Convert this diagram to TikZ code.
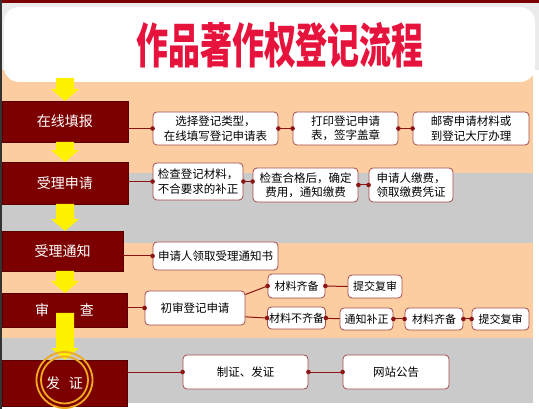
\documentclass[tikz,border=0pt]{standalone}
\usepackage{fontspec}
\newfontfamily\cjk{Noto Sans CJK SC}

\definecolor{peach}{RGB}{251,205,160}
\definecolor{bandgray}{RGB}{202,202,202}
\definecolor{stagered}{RGB}{125,0,0}
\definecolor{linkred}{RGB}{140,20,20}
\definecolor{boxline}{RGB}{165,75,75}
\definecolor{titlered}{RGB}{230,20,60}
\definecolor{ringorange}{RGB}{240,170,30}

\begin{document}
\begin{tikzpicture}[x=1pt, y=-1pt,
  stage/.style={fill=stagered, draw=stagered!70!black, text=white,
    font=\cjk\fontsize{14}{14}\selectfont, inner sep=0pt},
  stepbox/.style={draw=boxline, fill=white, rounded corners=4pt, align=center,
    inner sep=1pt, line width=0.8pt, font=\cjk\fontsize{11.5}{14.5}\selectfont},
  smallbox/.style={stepbox, font=\cjk\fontsize{11}{11}\selectfont},
  link/.style={draw=linkred, line width=1pt},
  yarrow/.style={fill=yellow},
  ring/.style={draw=ringorange, line width=1.8pt}]
  \useasboundingbox (0,0) rectangle (539,409);

  % bands
  \fill[white] (0,0) rectangle (539,409);
  \fill[black!8] (0,0) rectangle (539,70);
  \fill[peach] (0,70) rectangle (533,173);
  \fill[bandgray] (0,173) rectangle (533,243);
  \fill[peach] (0,243) rectangle (533,338);
  \fill[bandgray] (0,338) rectangle (533,403);
  \fill[stagered] (0,0) rectangle (539,3);
  \fill[black!80] (0,0) rectangle (2,409);
  \fill[white, rounded corners=15pt] (4,7) rectangle (535,82);

  \node[font=\cjk\bfseries\fontsize{32}{32}\selectfont, text=titlered, yscale=1.5]
    (title) at (280,45) {作品著作权登记流程};

  % stages
  \node[stage, minimum width=126pt, minimum height=41pt] (s1) at (65,121.5) {在线填报};
  \node[stage, minimum width=126pt, minimum height=42pt] (s2) at (65,183) {受理申请};
  \node[stage, minimum width=121pt, minimum height=40pt] (s3) at (62.5,251) {受理通知};
  \node[stage, minimum width=125pt, minimum height=34pt] (s4) at (64.5,310) {审\hspace{31pt}查};
  \node[stage, minimum width=125pt, minimum height=46pt] (s5) at (64.5,383) {发\hspace{9pt}证};

  % steps
  \node[stepbox, minimum width=125pt, minimum height=33pt] (A) at (215.5,128.5) {选择登记类型，\\在线填写登记申请表};
  \node[stepbox, minimum width=105pt, minimum height=33pt] (B) at (345.5,128.5) {打印登记申请\\表，签字盖章};
  \node[stepbox, minimum width=116pt, minimum height=33pt] (C) at (471,128.5) {邮寄申请材料或\\到登记大厅办理};
  \node[stepbox, minimum width=90pt, minimum height=37pt] (D) at (198,181.5) {检查登记材料，\\不合要求的补正};
  \node[stepbox, minimum width=105pt, minimum height=34pt] (E) at (305.5,185) {检查合格后，确定\\费用，通知缴费};
  \node[stepbox, minimum width=84pt, minimum height=34pt] (F) at (411,185) {申请人缴费，\\领取缴费凭证};
  \node[stepbox, minimum width=125pt, minimum height=28pt] (G) at (215.5,256) {申请人领取受理通知书};
  \node[stepbox, minimum width=100pt, minimum height=34pt] (H) at (195,308) {初审登记申请};
  \node[smallbox, minimum width=57pt, minimum height=24pt] (I) at (296.5,286) {材料齐备};
  \node[smallbox, minimum width=54pt, minimum height=23pt] (J) at (375,286.5) {提交复审};
  \node[smallbox, minimum width=58pt, minimum height=22pt] (K) at (296.5,318) {材料不齐备};
  \node[smallbox, minimum width=53pt, minimum height=22pt] (L) at (366.5,319) {通知补正};
  \node[smallbox, minimum width=58pt, minimum height=22pt] (M) at (434,319) {材料齐备};
  \node[smallbox, minimum width=57pt, minimum height=22pt] (N) at (500.5,319) {提交复审};
  \node[stepbox, minimum width=125pt, minimum height=34pt] (O) at (245.5,372) {制证、发证};
  \node[stepbox, minimum width=106pt, minimum height=34pt] (P) at (396,372) {网站公告};

  % links
  \draw[link] (A.west -| s1.east) -- (A.west);
  \draw[link] (A) -- (B);
  \draw[link] (B) -- (C);
  \draw[link] (D.west -| s2.east) -- (D.west);
  \draw[link] (D.east) -- (D.east -| E.west);
  \draw[link] (E) -- (F);
  \draw[link] (G.west -| s3.east) -- (G.west);
  \draw[link] (H.west -| s4.east) -- (H.west);
  \draw[link] (H.15) -- (I.west);
  \draw[link] (H.-10) -- (K.west);
  \draw[link] (I) -- (J);
  \draw[link] (K) -- (L);
  \draw[link] (L) -- (M);
  \draw[link] (M) -- (N);
  \draw[link] (O.west -| s5.east) -- (O.west);
  \draw[link] (O) -- (P);

  \foreach \p in {A.west, A.east, B.west, B.east, C.west, D.west, D.east,
    E.east, F.west, G.west, H.west, I.west, I.east, K.west, K.east,
    L.east, M.west, M.east, N.west, O.west, O.east, P.west}
    \fill[linkred] (\p) circle (2.3pt);
  \fill[linkred] (D.east -| E.west) circle (2.3pt);

  % yellow arrows
  \foreach \ya/\yb in {78/101, 142/162, 204/231, 271/293, 313/360}
    \fill[yarrow] (56,\ya) -- (74,\ya) -- (74,\yb-12) -- (79,\yb-12)
      -- (65,\yb) -- (51,\yb-12) -- (56,\yb-12) -- cycle;

  \draw[ring] (s5.center) ++(0,-3) circle (28pt);
  \draw[ring] (s5.center) ++(0,-3) circle (23.5pt);
\end{tikzpicture}
\end{document}
